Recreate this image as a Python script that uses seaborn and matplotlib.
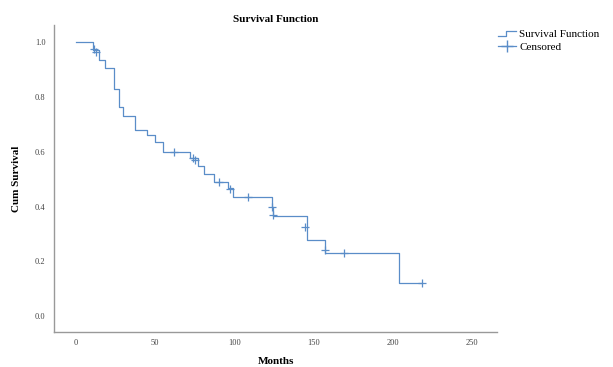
import pandas as pd
import numpy as np
import matplotlib
matplotlib.use("Agg")
import matplotlib.pyplot as plt
import seaborn as sns
from matplotlib.lines import Line2D
from matplotlib.legend_handler import HandlerBase

# step points of the Kaplan-Meier curve (months, cum survival)
event_months = [0, 10.7, 14.5, 18.3, 24, 27, 29.6, 37, 45, 50, 55, 72, 77, 81, 87, 96, 99, 123.6, 124, 146, 157, 204, 218]
event_surv = [1.0, 0.97, 0.934, 0.905, 0.83, 0.763, 0.73, 0.68, 0.66, 0.635, 0.60, 0.577, 0.547, 0.52, 0.49, 0.467, 0.434, 0.40, 0.365, 0.277, 0.23, 0.12, 0.12]

# censored cases
cens_months = [11.5, 12.5, 62, 74, 75, 90, 97, 108.5, 123.5, 124, 144.5, 157, 169, 218]
cens_surv = [0.975, 0.965, 0.60, 0.577, 0.57, 0.49, 0.463, 0.434, 0.40, 0.37, 0.325, 0.24, 0.23, 0.12]

blue = "#5a8dc8"

plt.rcParams['font.family'] = ['Liberation Serif', 'DejaVu Serif']


class StepHandler(HandlerBase):
    # little step icon like the SPSS legend
    def create_artists(self, legend, orig_handle, xdescent, ydescent, width, height, fontsize, trans):
        xs = [-xdescent, -xdescent + width * 0.45, -xdescent + width * 0.45, -xdescent + width]
        ys = [height * 0.1, height * 0.1, height * 0.85, height * 0.85]
        ln = Line2D(xs, ys, color=orig_handle.get_color(), lw=orig_handle.get_linewidth(), transform=trans)
        return [ln]


curve = pd.DataFrame({'Months': event_months, 'Cum Survival': event_surv})
cens = pd.DataFrame({'Months': cens_months, 'Cum Survival': cens_surv})

fig = plt.figure(figsize=(6.13, 3.67), dpi=100)
ax = fig.add_axes([0.088, 0.095, 0.723, 0.837])

sns.lineplot(data=curve, x='Months', y='Cum Survival', ax=ax, color=blue,
             drawstyle='steps-post', estimator=None, sort=False, linewidth=0.9)
sns.scatterplot(data=cens, x='Months', y='Cum Survival', ax=ax, color=blue,
                marker='+', s=40, linewidth=0.9)

ax.set_xlim(-13.9, 265.6)
ax.set_ylim(-0.058, 1.062)
ax.set_xticks([0, 50, 100, 150, 200, 250])
ax.set_yticks([0.0, 0.2, 0.4, 0.6, 0.8, 1.0])
ax.set_yticklabels(['0.0', '0.2', '0.4', '0.6', '0.8', '1.0'])
ax.tick_params(axis='x', length=0, labelsize=6, colors='#444444', pad=5)
ax.tick_params(axis='y', length=0, labelsize=6, colors='#444444', pad=6)
for s in ['top', 'right']:
    ax.spines[s].set_visible(False)
for s in ['left', 'bottom']:
    ax.spines[s].set_color('#999999')
    ax.spines[s].set_linewidth(1.0)

ax.set_xlabel('Months', fontsize=8, fontweight='bold', labelpad=7)
ax.set_ylabel('Cum Survival', fontsize=8, fontweight='bold', labelpad=10)
ax.set_title('Survival Function', fontsize=8, fontweight='bold', pad=2)

step_handle = Line2D([0], [0], color=blue, lw=0.9)
cens_handle = Line2D([0], [0], color=blue, lw=0.9, marker='+', markersize=9)
fig.legend([step_handle, cens_handle], ['Survival Function', 'Censored'], loc='upper left',
           bbox_to_anchor=(0.796, 0.947), frameon=False, fontsize=8,
           handlelength=1.6, handletextpad=0.3, labelspacing=0.25,
           handler_map={step_handle: StepHandler()})

fig.savefig('out.png', dpi=100)
